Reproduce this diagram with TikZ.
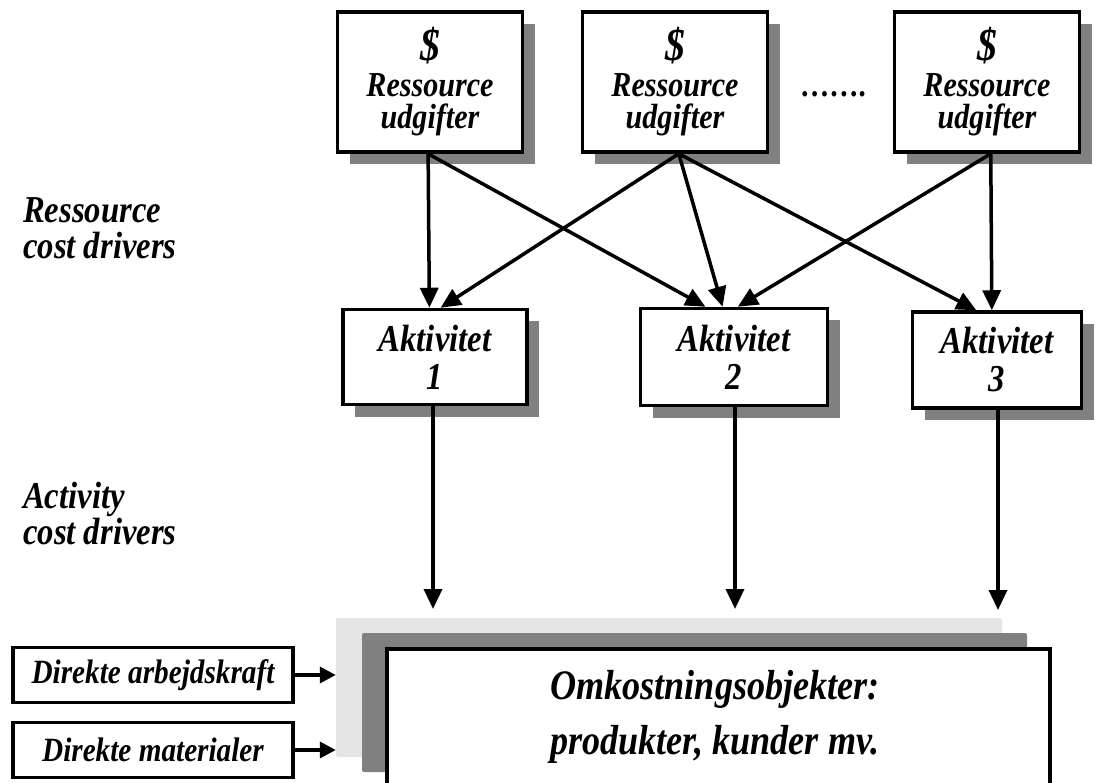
\documentclass[tikz,border=0pt]{standalone}
\usepackage{fontspec}
\setmainfont[FakeStretch=0.86]{Liberation Serif}
\usetikzlibrary{arrows.meta,shadows,calc}
\begin{document}
\begin{tikzpicture}[x=1pt,y=-1pt,
  box/.style={draw=black, line width=3.5pt, fill=white, inner sep=0pt, align=center,
    font=\bfseries\itshape},
  shad/.style={drop shadow={shadow xshift=12pt,shadow yshift=-12pt,fill=black!50,opacity=1}},
  arr/.style={line width=3.5pt, -{Triangle[length=20pt,width=18pt]}},
  lbl/.style={font=\bfseries\itshape\fontsize{38}{36}\selectfont, align=left, anchor=west, inner sep=0pt}]
\useasboundingbox (0,0) rectangle (1102,783);
% resource boxes
\foreach \n/\x in {R1/430,R2/675,R3/987}{
  \node[box,shad,minimum width=185pt,minimum height=140pt,font=\bfseries\itshape\fontsize{35}{32}\selectfont] (\n) at (\x,82)
    {{\fontsize{46}{40}\selectfont\$}\\[4pt]Ressource\\udgifter};
}
\node[font=\bfseries\itshape\fontsize{34}{30}\selectfont, inner sep=0pt] (dots) at (834,94) {…….};
% activity boxes
\node[box,shad,minimum width=184pt,minimum height=95pt,font=\bfseries\itshape\fontsize{38}{38}\selectfont] (A1) at (435,357) {Aktivitet\\1};
\node[box,shad,minimum width=187pt,minimum height=97pt,font=\bfseries\itshape\fontsize{38}{38}\selectfont] (A2) at (734,357) {Aktivitet\\2};
\node[box,shad,minimum width=169pt,minimum height=96pt,font=\bfseries\itshape\fontsize{38}{38}\selectfont] (A3) at (997,360) {Aktivitet\\3};
% side labels
\node[lbl] (L1) at (23,228) {Ressource\\cost drivers};
\node[lbl] (L2) at (23,513) {Activity\\cost drivers};
% connector anchor points
\path (R1.south west) -- (R1.south east) coordinate[pos=0.49] (r1s);
\path (R2.south west) -- (R2.south east) coordinate[pos=0.52] (r2s);
\path (R3.south west) -- (R3.south east) coordinate[pos=0.52] (r3s);
\path (A1.north west) -- (A1.north east) coordinate[pos=0.47] (a1a) coordinate[pos=0.53] (a1b);
\path (A2.north west) -- (A2.north east) coordinate[pos=0.35] (a2a) coordinate[pos=0.44] (a2b) coordinate[pos=0.52] (a2c);
\path (A3.north west) -- (A3.north east) coordinate[pos=0.38] (a3a) coordinate[pos=0.47] (a3b);
\draw[arr] (r1s) -- (a1a);
\draw[arr] (r1s) -- (a2a);
\draw[arr] (r2s) -- (a1b);
\draw[arr] (r2s) -- (a2b);
\draw[arr] (r2s) -- (a3a);
\draw[arr] (r3s) -- (a2c);
\draw[arr] (r3s) -- (a3b);
% bottom stack
\node[fill=black!10, rounded corners=2pt, inner sep=0pt, minimum width=666pt, minimum height=139pt] (LG) at (669,687.5) {};
\node[fill=black!50, rounded corners=2pt, inner sep=0pt, minimum width=665pt, minimum height=139pt] (DG) at (694.5,702.5) {};
\node[draw=black, line width=3.5pt, fill=white, inner sep=0pt, minimum width=663pt, minimum height=160pt] (OB) at (718.5,729) {};
\node[font=\bfseries\itshape\fontsize{42}{55}\selectfont, align=center, inner sep=0pt] (O) at (715,717) {Omkostningsobjekter:\\produkter, kunder mv.};
% down arrows
\coordinate (t1) at (433,609);
\coordinate (t2) at (735,609);
\coordinate (t3) at (998,610);
\draw[arr] (A1.south -| t1) -- (t1);
\draw[arr] (A2.south -| t2) -- (t2);
\draw[arr] (A3.south -| t3) -- (t3);
% direct cost boxes
\node[box,minimum width=280pt,minimum height=55pt,font=\bfseries\itshape\fontsize{34}{30}\selectfont] (D1) at (153,675) {Direkte arbejdskraft};
\node[box,minimum width=280pt,minimum height=55pt,font=\bfseries\itshape\fontsize{34}{30}\selectfont] (D2) at (153,750) {Direkte materialer};
\draw[line width=3.5pt, -{Triangle[length=16pt,width=16pt]}] (D1.east) -- (D1.east -| LG.west);
\draw[line width=3.5pt, -{Triangle[length=16pt,width=16pt]}] (D2.east) -- (D2.east -| LG.west);
\end{tikzpicture}
\end{document}
